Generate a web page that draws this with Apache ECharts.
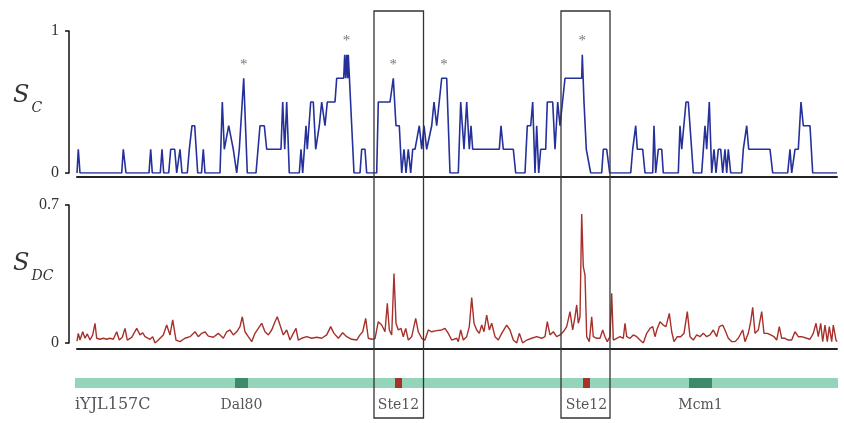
<!DOCTYPE html>
<html>
<head>
<meta charset="utf-8">
<script src="https://cdn.jsdelivr.net/npm/echarts@6/dist/echarts.min.js"></script>
<style>
    html, body { margin: 0; padding: 0; background: #fff; }
    #container { width: 844px; height: 423px; }
</style>
</head>
<body>
<div id="container"></div>
<script>
// 序列位置 (0..760) 和 S_C 值
var scX = [0, 1.3, 3, 44.7, 46.3, 49, 72, 73.7, 75.3, 83.3, 85, 86.7, 91.7, 93.7, 97.7, 99.7, 101.5, 103, 105,
    110.3, 112.3, 115, 117.7, 120.7, 124.5, 126.3, 128, 143, 145.3, 147.3, 148.7, 151.7, 153.7, 156.3, 159.7,
    162.3, 164.3, 166.7, 170.3, 179, 183, 187.3, 189.7, 204, 205.7, 207.7, 209.7, 212.3, 222.3, 224, 225.7,
    229, 230.3, 233.7, 236.3, 238.7, 242.3, 244.7, 248, 250.3, 258, 259.7, 266.7, 267.7, 268.7, 269.7, 270.7,
    271.3, 277, 283, 284.7, 288, 289.7, 299.7, 301.3, 313, 316.3, 319, 322.3, 324.7, 327, 329, 331.3, 333.7,
    335.7, 338, 342.3, 344.7, 347, 349.7, 354.7, 357, 359.7, 364.7, 369.7, 373, 381.3, 383.7, 387, 389.7,
    392.3, 394, 395.7, 422.3, 424, 426.3, 436.3, 438.7, 448, 450.3, 453.7, 455.7, 458, 459.7, 461.7, 463.7,
    468.7, 470.3, 475.7, 478, 480.7, 483, 484.7, 488, 504.7, 505.3, 507, 509.3, 511.3, 513.7, 524.7, 526.3,
    529.7, 532.7, 553.7, 555.7, 558.7, 560.3, 565.7, 568, 575.7, 577, 578.7, 581.3, 584.7, 586.3, 601.3, 603,
    604.7, 606.3, 609, 611.3, 616.3, 624.7, 628, 629.7, 632.3, 634.7, 637, 639, 641.3, 643.7, 645.7, 648,
    649.7, 651.3, 653.7, 664.7, 666.3, 669.7, 671.7, 693, 695.7, 710.7, 713, 714.7, 718, 721.3, 724, 726.3,
    733, 735.7, 760];
var scY = [0, 0.167, 0, 0, 0.167, 0, 0, 0.167, 0, 0, 0.167, 0, 0, 0.167, 0.167, 0, 0, 0.167, 0,
    0, 0.167, 0.333, 0.333, 0, 0, 0.167, 0, 0, 0.5, 0.167, 0.167, 0.333, 0.333, 0.167, 0,
    0.167, 0.167, 0.667, 0, 0, 0.333, 0.333, 0.167, 0.167, 0.5, 0.167, 0.5, 0, 0, 0.167, 0,
    0.333, 0.167, 0.5, 0.5, 0.167, 0.333, 0.5, 0.333, 0.5, 0.5, 0.667, 0.667, 0.833, 0.667, 0.833, 0.667,
    0.833, 0, 0, 0.167, 0.167, 0, 0, 0.5, 0.5, 0.667, 0.333, 0.333, 0, 0.167, 0, 0.167, 0,
    0.167, 0.167, 0.333, 0.167, 0.333, 0.167, 0.333, 0.5, 0.333, 0.667, 0.667, 0, 0, 0.5, 0.167, 0.5,
    0.167, 0.333, 0.167, 0.167, 0.333, 0.167, 0.167, 0, 0, 0.333, 0.333, 0.5, 0, 0.333, 0, 0.167,
    0.167, 0.5, 0.5, 0.167, 0.5, 0.333, 0.333, 0.667, 0.667, 0.833, 0.5, 0.167, 0.167, 0, 0, 0.167,
    0.167, 0, 0, 0.167, 0.333, 0.167, 0.167, 0, 0, 0.333, 0, 0.167, 0.167, 0, 0, 0.333,
    0.167, 0.167, 0.5, 0.5, 0, 0, 0.333, 0.167, 0.5, 0, 0.167, 0, 0.167, 0.167, 0, 0.167,
    0, 0.167, 0, 0, 0.167, 0.333, 0.167, 0.167, 0, 0, 0.167, 0, 0.167, 0.167, 0.5, 0.333,
    0.333, 0, 0];

// S_DC 值
var dcX = [0, 1.3, 3, 5.7, 8, 10.3, 13, 15.7, 18, 19.7, 23, 26.3, 29.7, 33, 36.3, 39.7, 42.3, 45.3, 48,
    50.3, 54.7, 59.7, 63, 65.7, 68, 73, 75.7, 78, 81.3, 86.3, 89.7, 93, 95.7, 99, 103, 108, 113, 118, 121.3,
    124.7, 128, 131.3, 136.3, 141.3, 146.3, 149.7, 153, 156.3, 159.7, 163, 165.3, 168, 171.3, 174.7, 178,
    181.3, 184.7, 188, 191.3, 194.7, 198, 200.3, 203, 206.3, 209.7, 213, 216.3, 219, 221.3, 224.7, 229.7,
    234.7, 239.7, 244.7, 249.7, 253.7, 257, 261.3, 265.7, 269.7, 274.7, 279.7, 283, 285.7, 288.7, 291.3,
    294.7, 298, 301.3, 304.7, 308, 310.3, 312.3, 314.7, 317, 319, 321.3, 324, 326.3, 328.7, 331.3, 334.7,
    338.7, 341.3, 344.7, 348, 351.3, 354.7, 359.7, 364.7, 368, 371.3, 374.7, 379.7, 381.3, 383.7, 386.3,
    389.7, 392.3, 394.7, 397, 399.7, 402.3, 404.7, 407, 409.7, 412.3, 414.7, 418, 421.3, 424.7, 429.7, 433,
    436.3, 439.7, 442.3, 445.7, 449.7, 454.7, 459.7, 464.7, 468, 470.3, 473, 476.3, 479.7, 483, 486.3,
    489.7, 493, 495.7, 498, 499.7, 501.3, 503, 504.7, 506.3, 508, 509.7, 512.3, 514.7, 516.3, 519.7, 523,
    525.7, 528, 530.3, 533, 534.7, 536.3, 539.7, 543, 546.3, 548, 549.7, 553, 556.3, 559.7, 563, 566.3,
    569.7, 573, 575.7, 578, 580.3, 583, 586.3, 589, 592.3, 594.7, 597, 600.3, 603.7, 607, 610.3, 613,
    616.3, 619.7, 623, 626.3, 629.7, 633, 636.3, 639.7, 642.3, 645.7, 648, 651.3, 654.7, 658, 661.3, 665.7,
    668, 671.3, 673.7, 675.7, 678, 681.3, 684.7, 687, 690.3, 693.7, 697, 699.7, 702.3, 704.7, 708, 711.3,
    714.7, 718, 721.3, 724.7, 729.7, 733, 736.3, 739, 741.3, 743.7, 745.7, 748, 750.3, 752.3, 754.7, 756.3,
    759, 760];
var dcY = [0.01, 0.049, 0.015, 0.057, 0.024, 0.046, 0.015, 0.041, 0.1, 0.024, 0.019, 0.024, 0.019, 0.024,
    0.019, 0.057, 0.015, 0.029, 0.074, 0.015, 0.029, 0.074, 0.041, 0.052, 0.032, 0.019, 0.032, 0.0, 0.015,
    0.041, 0.091, 0.041, 0.117, 0.015, 0.007, 0.024, 0.032, 0.057, 0.032, 0.049, 0.057, 0.035, 0.029, 0.049,
    0.024, 0.057, 0.066, 0.041, 0.057, 0.083, 0.133, 0.057, 0.032, 0.007, 0.049, 0.074, 0.1, 0.057, 0.041,
    0.066, 0.108, 0.133, 0.091, 0.041, 0.066, 0.015, 0.049, 0.074, 0.015, 0.024, 0.032, 0.024, 0.029, 0.024,
    0.041, 0.083, 0.049, 0.024, 0.052, 0.032, 0.019, 0.015, 0.041, 0.057, 0.125, 0.024, 0.019, 0.022, 0.108,
    0.091, 0.057, 0.201, 0.066, 0.041, 0.353, 0.1, 0.066, 0.074, 0.032, 0.074, 0.015, 0.032, 0.125, 0.057,
    0.024, 0.015, 0.066, 0.057, 0.063, 0.066, 0.074, 0.049, 0.015, 0.024, 0.007, 0.066, 0.015, 0.032, 0.083,
    0.23, 0.1, 0.066, 0.049, 0.091, 0.057, 0.142, 0.066, 0.1, 0.032, 0.015, 0.049, 0.091, 0.066, 0.015, 0.0,
    0.049, 0.0, 0.015, 0.024, 0.032, 0.024, 0.032, 0.108, 0.041, 0.057, 0.032, 0.041, 0.057, 0.083, 0.159,
    0.066, 0.133, 0.193, 0.1, 0.133, 0.654, 0.387, 0.345, 0.032, 0.007, 0.133, 0.032, 0.024, 0.024, 0.066,
    0.032, 0.007, 0.032, 0.252, 0.015, 0.024, 0.032, 0.024, 0.1, 0.032, 0.024, 0.041, 0.032, 0.015, 0.0,
    0.049, 0.074, 0.083, 0.032, 0.074, 0.108, 0.091, 0.083, 0.15, 0.057, 0.007, 0.032, 0.032, 0.049, 0.159,
    0.032, 0.015, 0.041, 0.032, 0.049, 0.032, 0.041, 0.066, 0.032, 0.083, 0.091, 0.066, 0.024, 0.007, 0.007,
    0.024, 0.066, 0.007, 0.049, 0.108, 0.181, 0.049, 0.066, 0.159, 0.049, 0.049, 0.041, 0.032, 0.015, 0.083,
    0.024, 0.024, 0.015, 0.015, 0.057, 0.032, 0.032, 0.024, 0.019, 0.049, 0.1, 0.032, 0.1, 0.007, 0.091,
    0.007, 0.083, 0.007, 0.091, 0.015, 0.007];

// 星号标记的峰
var starX = [166.7, 269.5, 316.3, 367, 505.3];
var starY = [0.667, 0.833, 0.667, 0.667, 0.833];

// 基因区域和motif
var trackRange = [0, 760];
var trackName = 'iYJL157C';
var motifName = ['Dal80', 'Ste12', 'Ste12', 'Mcm1'];
var motifStart = [158, 318, 506, 612];
var motifEnd = [171, 325, 513, 635];

// 方框区域
var boxStart = [297, 484];
var boxEnd = [346.5, 533];

var xMax = 760;
var serif = 'Liberation Serif';
var labelFont = '14px "DejaVu Serif"';
var motifColor = { Dal80: '#3d8b68', Mcm1: '#3d8b68', Ste12: '#a8322a' };

function zip(a, b) {
    var out = [];
    for (var i = 0; i < a.length; i++) {
        out.push([a[i], b[i]]);
    }
    return out;
}

function xAxisOf(idx, offset, show) {
    return {
        type: 'value',
        gridIndex: idx,
        min: 0,
        max: xMax,
        offset: offset,
        axisLine: { show: show, onZero: false, lineStyle: { color: '#222', width: 2 } },
        axisTick: { show: false },
        axisLabel: { show: false },
        splitLine: { show: false }
    };
}

function yAxisOf(idx, max, label) {
    return {
        type: 'value',
        gridIndex: idx,
        min: 0,
        max: max,
        interval: max,
        offset: 8,
        axisLine: { show: true, onZero: false, lineStyle: { color: '#111', width: 1.5 } },
        axisTick: { show: true, length: 4, lineStyle: { color: '#111', width: 1.5 } },
        axisLabel: {
            margin: 10,
            color: '#333',
            fontFamily: serif,
            fontSize: 16,
            formatter: function (v) {
                return v === 0 ? '0' : label;
            }
        },
        splitLine: { show: false }
    };
}

function nameLabel(sub, top) {
    return {
        type: 'text', left: 13, top: top,
        style: {
            text: '{s|S}{c|' + sub + '}',
            rich: {
                s: { fontFamily: 'DejaVu Serif', fontStyle: 'italic', fontSize: 24, fill: '#333', verticalAlign: 'top', lineHeight: 31, padding: [0, 2, 0, 0] },
                c: { fontFamily: 'DejaVu Serif', fontStyle: 'italic', fontSize: 14, fill: '#333', verticalAlign: 'bottom', lineHeight: 31 }
            }
        }
    };
}

var motifData = [];
for (var i = 0; i < motifName.length; i++) {
    motifData.push([motifStart[i], motifEnd[i], motifName[i]]);
}

var option = {
    animation: false,
    grid: [
        { left: 77, right: 7, top: 31, height: 142 },
        { left: 77, right: 7, top: 205, height: 138 },
        { left: 77, right: 7, top: 378, height: 10 }
    ],
    xAxis: [xAxisOf(0, 4, true), xAxisOf(1, 6, true), xAxisOf(2, 0, false)],
    yAxis: [
        yAxisOf(0, 1, '1'),
        yAxisOf(1, 0.7, '0.7'),
        { type: 'value', gridIndex: 2, min: 0, max: 1, show: false }
    ],
    graphic: [nameLabel('C', 84), nameLabel('DC', 252)],
    series: [
        {
            name: 'S_C',
            type: 'line',
            xAxisIndex: 0,
            yAxisIndex: 0,
            data: zip(scX, scY),
            symbol: 'none',
            lineStyle: { color: '#25309b', width: 1.6 }
        },
        {
            name: 'peak',
            type: 'scatter',
            xAxisIndex: 0,
            yAxisIndex: 0,
            data: zip(starX, starY),
            symbolSize: 0,
            label: {
                show: true,
                position: 'top',
                distance: 6,
                formatter: '*',
                color: '#555',
                fontFamily: serif,
                fontSize: 15
            }
        },
        {
            name: 'S_DC',
            type: 'line',
            xAxisIndex: 1,
            yAxisIndex: 1,
            data: zip(dcX, dcY),
            symbol: 'none',
            lineStyle: { color: '#a8302a', width: 1.4 }
        },
        {
            name: 'track',
            type: 'custom',
            xAxisIndex: 2,
            yAxisIndex: 2,
            data: [[trackRange[0], trackRange[1], trackName]],
            renderItem: function (params, api) {
                var s = api.coord([api.value(0), 0.5]);
                var e = api.coord([api.value(1), 0.5]);
                var h = api.size([0, 1])[1];
                return {
                    type: 'group',
                    children: [
                        { type: 'rect', shape: { x: s[0] - 2, y: s[1] - h / 2, width: e[0] - s[0] + 3, height: h }, style: { fill: '#93d4bb' } },
                        { type: 'text', x: s[0] - 2, y: s[1] + 22, style: { text: trackName, font: '16px "DejaVu Serif"', fill: '#555', verticalAlign: 'middle', align: 'left' } }
                    ]
                };
            }
        },
        {
            name: 'motif',
            type: 'custom',
            xAxisIndex: 2,
            yAxisIndex: 2,
            data: motifData,
            renderItem: function (params, api) {
                var s = api.coord([api.value(0), 0.5]);
                var e = api.coord([api.value(1), 0.5]);
                var h = api.size([0, 1])[1];
                var name = motifData[params.dataIndex][2];
                return {
                    type: 'group',
                    children: [
                        { type: 'rect', shape: { x: s[0], y: s[1] - h / 2, width: e[0] - s[0], height: h }, style: { fill: motifColor[name] } },
                        { type: 'text', x: (s[0] + e[0]) / 2, y: s[1] + 22, style: { text: name, font: labelFont, fill: '#555', verticalAlign: 'middle', align: 'center' } }
                    ]
                };
            }
        }
    ]
};

var container = echarts.init(document.getElementById('container'));
container.setOption(option);

// 画方框
function drawBoxes() {
    var rects = [];
    for (var i = 0; i < boxStart.length; i++) {
        var x0 = container.convertToPixel({ xAxisIndex: 0 }, boxStart[i]);
        var x1 = container.convertToPixel({ xAxisIndex: 0 }, boxEnd[i]);
        rects.push({
            type: 'rect',
            shape: { x: x0, y: 11, width: x1 - x0, height: 407 },
            style: { fill: 'none', stroke: '#333', lineWidth: 1.3 },
            z: 100
        });
    }
    container.setOption({ graphic: option.graphic.concat(rects) });
}
drawBoxes();
</script>
</body>
</html>
